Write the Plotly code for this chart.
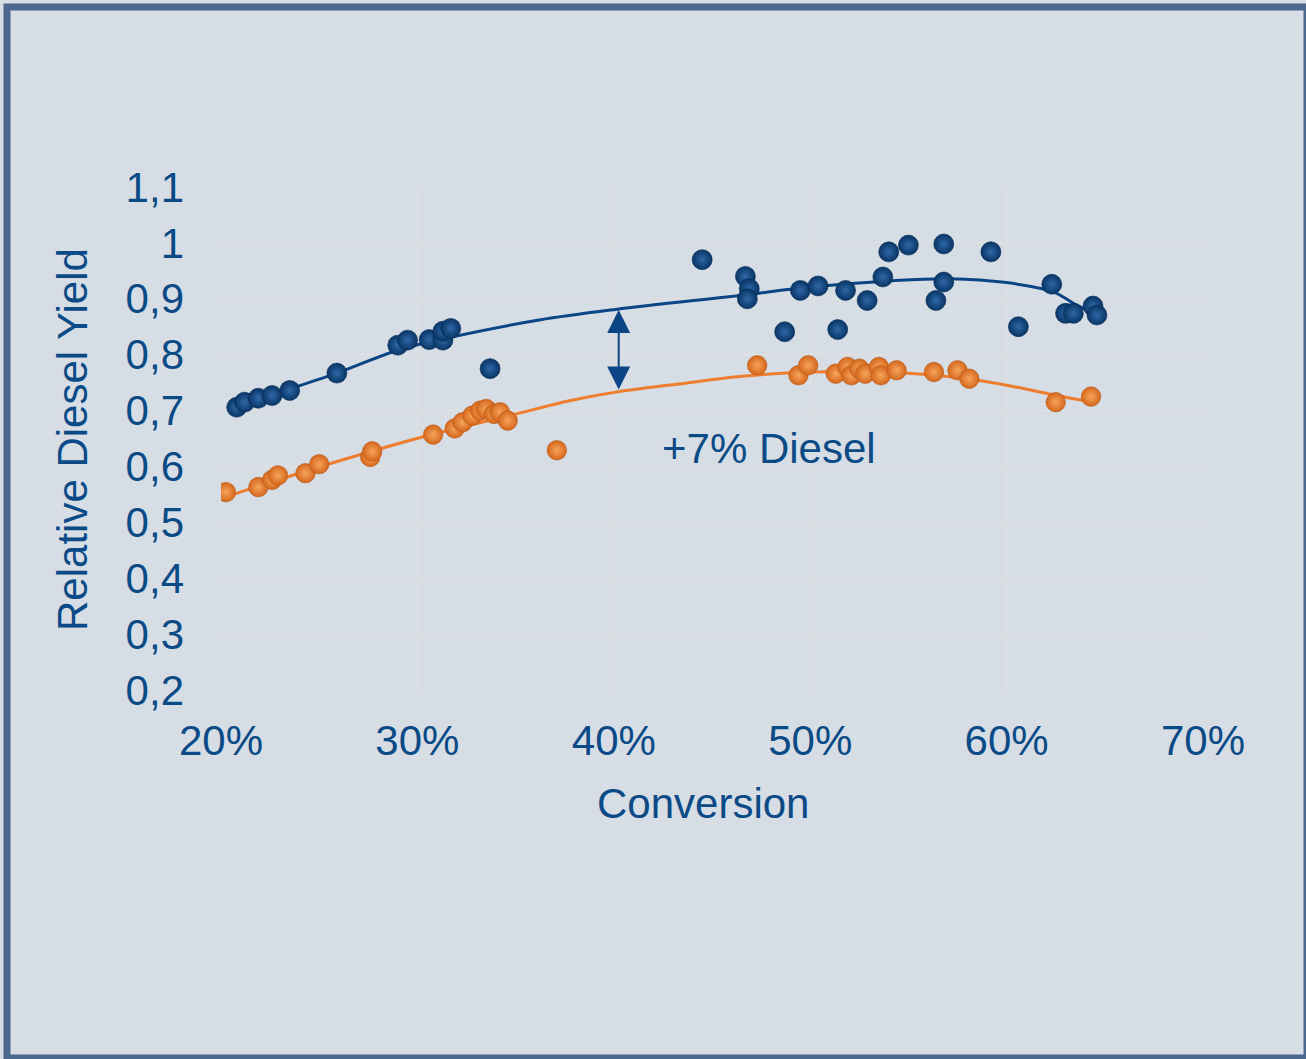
import plotly.graph_objects as go

# ---------------- data ----------------
blue_conv = [20.8, 21.2, 21.9, 22.6, 23.5, 25.9, 29.0, 29.5, 30.6, 31.3, 31.3, 31.7, 33.7,
             44.5, 46.7, 46.9, 46.8, 48.7, 49.5, 50.4, 51.4, 51.8, 52.9, 53.7, 54.0, 55.0,
             56.4, 56.8, 56.8, 59.2, 60.6, 62.3, 63.0, 63.4, 64.4, 64.6]
blue_yield = [0.706, 0.715, 0.722, 0.727, 0.736, 0.767, 0.817, 0.826, 0.827, 0.826, 0.842, 0.847, 0.775,
              0.970, 0.940, 0.918, 0.900, 0.841, 0.915, 0.923, 0.845, 0.915, 0.897, 0.939, 0.984, 0.996,
              0.897, 0.930, 0.998, 0.984, 0.850, 0.926, 0.874, 0.874, 0.887, 0.871]

orange_conv = [20.25, 21.9, 22.6, 22.9, 24.3, 25.0, 27.6, 27.7, 30.8, 31.9, 32.3, 32.8, 33.2, 33.5,
               33.9, 34.2, 34.6, 37.1, 47.3, 49.4, 49.9, 51.3, 51.9, 52.1, 52.5, 52.8, 53.5, 53.6,
               54.4, 56.3, 57.5, 58.1, 62.5, 64.3]
orange_yield = [0.554, 0.563, 0.576, 0.584, 0.588, 0.604, 0.617, 0.627, 0.657, 0.668, 0.679, 0.691, 0.700, 0.703,
                0.694, 0.697, 0.682, 0.629, 0.781, 0.763, 0.781, 0.766, 0.778, 0.763, 0.775, 0.766, 0.778, 0.763,
                0.772, 0.769, 0.772, 0.757, 0.715, 0.725]

# trendlines
blue_trend_x = [20.8, 22.5, 25.9, 29.0, 31.8, 36.2, 40.1, 46.4, 50.0, 54.0, 57.1, 60.0, 62.4, 63.4, 64.6]
blue_trend_y = [0.705, 0.727, 0.767, 0.808, 0.832, 0.862, 0.881, 0.906, 0.921, 0.932, 0.936, 0.929, 0.912, 0.892, 0.871]
orange_trend_x = [20.2, 25.0, 30.3, 34.7, 37.8, 40.1, 43.4, 46.4, 50.0, 54.4, 57.5, 60.2, 62.4, 64.3]
orange_trend_y = [0.545, 0.599, 0.653, 0.691, 0.718, 0.733, 0.748, 0.761, 0.769, 0.768, 0.759, 0.744, 0.728, 0.716]

x_ticks = [20, 30, 40, 50, 60, 70]
x_ticktext = ["20%", "30%", "40%", "50%", "60%", "70%"]
y_ticks = [0.2, 0.3, 0.4, 0.5, 0.6, 0.7, 0.8, 0.9, 1.0, 1.1]
y_ticktext = ["0,2", "0,3", "0,4", "0,5", "0,6", "0,7", "0,8", "0,9", "1", "1,1"]

arrow_x = 40.25
arrow_top = 0.880
arrow_bottom = 0.735
label_text = "+7% Diesel"
label_x = 47.9
label_y = 0.632

x_title = "Conversion"
y_title = "Relative Diesel Yield"

# ---------------- styling ----------------
W, H = 1306, 1059
L, R, T, B = 221, 103, 187, 369
PW, PH = W - L - R, H - T - B
TXT = "#0a4a86"
FONT = "Liberation Sans, Arial, sans-serif"
FS = 42
BG = "#d6dde5"
GRID = "#e5e2dd"


def px(xp):
    return (xp - L) / PW


def py(yp):
    return (H - B - yp) / PH


fig = go.Figure()

fig.add_trace(go.Scatter(x=blue_trend_x, y=blue_trend_y, mode="lines",
                         line=dict(color="#0b4585", width=3, shape="spline", smoothing=1.0),
                         hoverinfo="skip", showlegend=False))
fig.add_trace(go.Scatter(x=orange_trend_x, y=orange_trend_y, mode="lines",
                         line=dict(color="#ee7d2e", width=3, shape="spline", smoothing=1.0),
                         hoverinfo="skip", showlegend=False))

fig.add_trace(go.Scatter(x=orange_conv, y=orange_yield, mode="markers",
                         marker=dict(size=19.5, color="#d5671b",
                                     gradient=dict(type="radial", color="#f6a55c"),
                                     line=dict(color="#b9591a", width=0.6)),
                         showlegend=False))
fig.add_trace(go.Scatter(x=blue_conv, y=blue_yield, mode="markers",
                         marker=dict(size=20, color="#083566",
                                     gradient=dict(type="radial", color="#2f68a6"),
                                     line=dict(color="#062c57", width=0.6)),
                         showlegend=False))

annotations = [
    dict(x=arrow_x, y=arrow_top, ax=arrow_x, ay=arrow_bottom, xref="x", yref="y",
         axref="x", ayref="y", text="", showarrow=True, arrowside="end+start",
         arrowhead=2, arrowsize=2.3, arrowwidth=2, arrowcolor="#0b4585",
         standoff=0, startstandoff=0),
    dict(x=label_x, y=label_y, xref="x", yref="y", text=label_text, showarrow=False,
         font=dict(family=FONT, size=FS, color=TXT), xanchor="center", yanchor="middle"),
    dict(x=px(703), y=py(803), xref="paper", yref="paper", text=x_title, showarrow=False,
         font=dict(family=FONT, size=FS, color=TXT), xanchor="center", yanchor="middle"),
    dict(x=px(72), y=py(440), xref="paper", yref="paper", text=y_title, showarrow=False,
         textangle=-90, font=dict(family=FONT, size=FS, color=TXT),
         xanchor="center", yanchor="middle"),
]

shapes = [
    dict(type="rect", xref="paper", yref="paper",
         x0=px(7), x1=px(1307), y0=py(1058), y1=py(7),
         line=dict(color="#4a678e", width=7), fillcolor="rgba(0,0,0,0)", layer="above"),
]

fig.update_layout(
    width=W, height=H,
    margin=dict(l=L, r=R, t=T, b=B, pad=0),
    paper_bgcolor=BG, plot_bgcolor=BG,
    font=dict(family=FONT, size=FS, color=TXT),
    annotations=annotations, shapes=shapes,
    showlegend=False,
)
fig.update_xaxes(range=[20, 70], tickvals=x_ticks, ticktext=x_ticktext,
                 showgrid=True, gridcolor=GRID, gridwidth=1, zeroline=False,
                 showline=False, ticks="", ticklabelstandoff=22,
                 tickfont=dict(family=FONT, size=FS, color=TXT))
fig.update_yaxes(range=[0.2, 1.1], tickvals=y_ticks, ticktext=y_ticktext,
                 showgrid=True, gridcolor=GRID, gridwidth=1, zeroline=False,
                 showline=False, ticks="", ticklabelstandoff=36,
                 tickfont=dict(family=FONT, size=FS, color=TXT))

fig.write_html("out.html", config={"displayModeBar": False},
               post_script="document.body.style.margin='0';document.body.style.overflow='hidden';")
